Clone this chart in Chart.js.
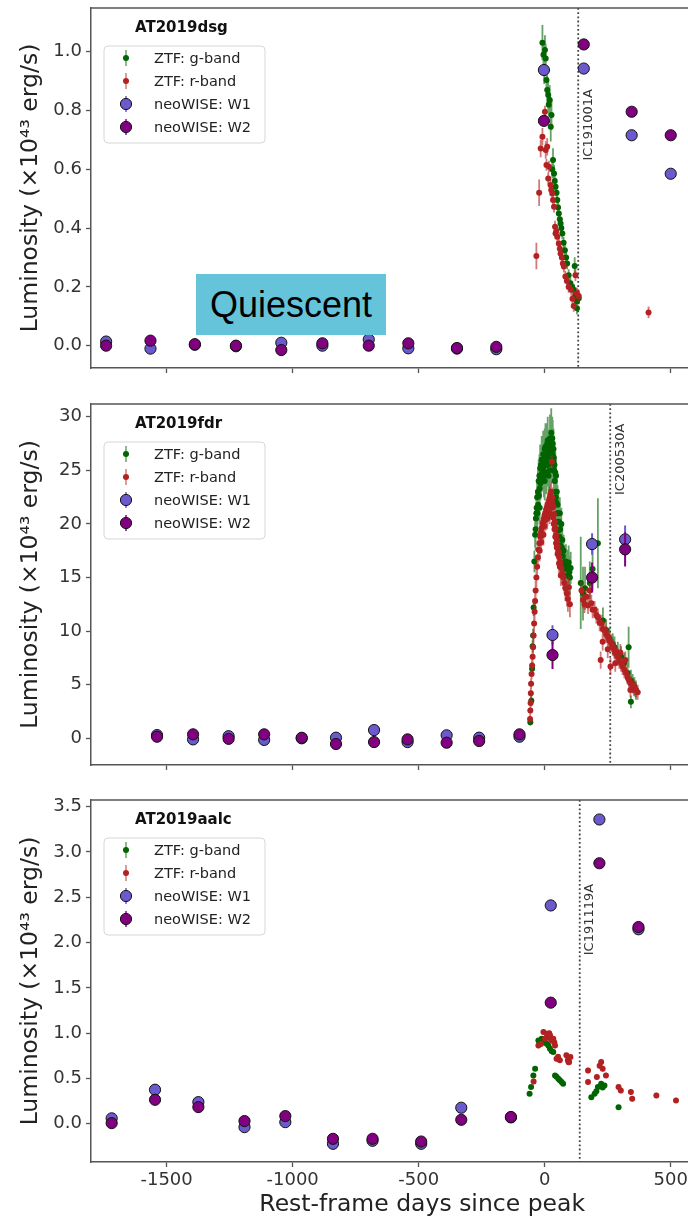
<!DOCTYPE html>
<html>
<head>
<meta charset="utf-8">
<script src="https://cdn.jsdelivr.net/npm/chart.js@4.4.1/dist/chart.umd.min.js"></script>
<style>
html, body { margin: 0; padding: 0; background: #fff; overflow: hidden; width: 688px; height: 1219px; }
.panel { position: absolute; left: 0; }
#quiescent {
    position: absolute; left: 196px; top: 274px; width: 190px; height: 61px;
    background: #66c4da; color: #000; z-index: 2;
    font: 36px 'Liberation Sans', Arial, sans-serif;
    display: flex; align-items: center; justify-content: center;
}
</style>
</head>
<body>
<canvas id="dsgChart" class="panel" width="760" height="385" style="top:0px"></canvas>
<canvas id="fdrChart" class="panel" width="760" height="392" style="top:390px"></canvas>
<canvas id="aalcChart" class="panel" width="760" height="434" style="top:785px"></canvas>
<div id="quiescent">Quiescent</div>
<script>
// ---- AT2019dsg ----
const dsgGDays = [-9, -5, -2, 1, 4, 7, 10, 14, 16, 20, 24, 27, 30, 33, 37, 40, 43, 47, 50, 53, 56, 60, 63, 66, 70, 75, 80, 85, 89, 95, 102, 109, 115, 119, 122, 128, 128, 135];
const dsgGLum = [1.031, 0.99, 0.94, 1.006, 0.977, 0.904, 0.87, 0.853, 0.82, 0.836, 0.745, 0.785, 0.60, 0.632, 0.586, 0.56, 0.541, 0.52, 0.496, 0.47, 0.45, 0.43, 0.416, 0.40, 0.382, 0.35, 0.325, 0.30, 0.28, 0.24, 0.212, 0.20, 0.19, 0.271, 0.17, 0.15, 0.127, 0.161];
const dsgGErr = [0.06, 0.05, 0.05, 0.05, 0.05, 0.05, 0.05, 0.05, 0.04, 0.05, 0.05, 0.05, 0.03, 0.04, 0.03, 0.03, 0.03, 0.03, 0.03, 0.03, 0.03, 0.02, 0.02, 0.02, 0.02, 0.02, 0.02, 0.02, 0.02, 0.02, 0.02, 0.02, 0.02, 0.03, 0.02, 0.02, 0.02, 0.02];
const dsgRDays = [-33, -22, -16, -9, 1, 4, 7, 10, 14, 17, 23, 26, 30, 33, 37, 41, 43, 46, 50, 56, 60, 63, 68, 72, 76, 82, 88, 95, 105, 110, 115, 122, 128, 135, 412];
const dsgRLum = [0.305, 0.52, 0.671, 0.711, 0.796, 0.666, 0.615, 0.677, 0.569, 0.609, 0.547, 0.53, 0.518, 0.496, 0.473, 0.405, 0.382, 0.39, 0.371, 0.348, 0.33, 0.314, 0.30, 0.28, 0.269, 0.235, 0.22, 0.2, 0.19, 0.16, 0.135, 0.24, 0.178, 0.169, 0.113];
const dsgRErr = [0.045, 0.045, 0.03, 0.03, 0.02, 0.03, 0.02, 0.03, 0.02, 0.02, 0.02, 0.02, 0.02, 0.02, 0.02, 0.02, 0.02, 0.02, 0.02, 0.02, 0.02, 0.02, 0.02, 0.02, 0.02, 0.02, 0.02, 0.02, 0.02, 0.02, 0.02, 0.02, 0.02, 0.02, 0.02];
const dsgWDays = [-1740, -1564, -1388, -1225, -1045, -882, -698, -541, -348, -192, -3, 155, 345, 500];
const dsgW1Lum = [0.014, -0.01, 0.003, -0.002, 0.01, 0.0, 0.021, -0.009, -0.01, -0.012, 0.938, 0.943, 0.716, 0.585];
const dsgW2Lum = [0.0, 0.017, 0.005, 0.0, -0.015, 0.008, 0.0, 0.008, -0.008, -0.004, 0.765, 1.025, 0.796, 0.716];
const dsgWErr = [0.005, 0.005, 0.005, 0.005, 0.005, 0.005, 0.005, 0.005, 0.005, 0.005, 0.01, 0.01, 0.01, 0.01];
const dsgYTicks = [0, 0.2, 0.4, 0.6, 0.8, 1.0];

// ---- AT2019fdr ----
const fdrGDays = [-57, -53, -50, -48, -46, -44, -41, -38, -35, -32, -30, -29, -26, -23, -20, -20, -17, -15, -14, -11, -10, -8, -5, -2, 0, 0, 1, 4, 7, 10, 10, 13, 15, 16, 19, 20, 22, 25, 28, 30, 31, 34, 35, 37, 40, 43, 45, 46, 49, 52, 55, 58, 60, 62, 66, 70, 75, 80, 86, 92, 98, 103, 143, 152, 160, 179, 190, 211, 231, 244, 257, 270, 277, 290, 303, 315, 329, 333, 342, 342, 349, 356, 362,
    -36, -33, -27, -24, -21, -18, -12, -6, -3, 3, 6, 9, 12, 18, 21, 24, 26, 29, 32, 36, 39, 42, 44, 48, 51, 54, 57, 61, 64, 68, 72, 78, 84, 90, 95, 100];
const fdrGLum = [1.5, 3.5, 6.5, 8.6, 9.6, 12.2, 16.5, 19.0, 20.5, 21.5, 22.5, 21.0, 21.8, 22.6, 23.3, 21.5, 23.8, 25.5, 24.3, 24.7, 26.0, 25.0, 25.3, 25.6, 24.0, 27.0, 25.8, 26.0, 26.2, 26.4, 27.5, 26.5, 24.5, 26.7, 26.8, 25.0, 27.0, 27.2, 27.4, 28.0, 26.5, 25.8, 27.0, 25.0, 24.0, 23.0, 24.5, 22.0, 21.0, 20.2, 19.4, 18.8, 21.0, 18.0, 20.0, 18.5, 17.5, 16.5, 15.8, 16.0, 15.5, 15.9, 14.5, 13.5, 14.0, 14.5, 15.8, 18.2, 11.0, 10.1, 9.3, 8.8, 8.5, 8.0, 7.6, 7.0, 6.1, 8.5, 5.4, 3.4, 5.1, 4.8, 4.5,
    19.5, 21.0, 23.0, 24.0, 24.5, 25.2, 26.0, 26.5, 24.5, 27.2, 24.8, 25.5, 27.8, 25.6, 28.0, 26.0, 28.5, 26.0, 27.5, 26.2, 25.5, 24.8, 22.5, 23.0, 21.8, 21.0, 20.2, 19.5, 18.6, 17.8, 17.0, 16.2, 16.5, 15.2, 16.4, 15.0];
const fdrGErr = [0.3, 0.5, 0.6, 0.6, 0.6, 0.8, 1.0, 1.2, 1.2, 1.5,
    1.5, 1.5, 1.5, 1.5, 1.6, 1.5, 1.6, 1.7, 1.7, 1.7,
    1.8, 1.8, 1.8, 1.8, 1.8, 1.9, 1.8, 1.8, 1.8, 1.8,
    1.9, 1.8, 1.8, 1.9, 2.0, 1.8, 2.0, 2.2, 2.3, 2.0,
    2.0, 1.8, 1.9, 1.8, 1.7, 1.6, 1.7, 1.5, 1.5, 1.5,
    1.4, 1.4, 1.5, 1.4, 1.5, 1.5, 1.5, 1.5, 1.5, 1.6, 1.5, 1.5,
    4.3, 2.5, 2.0, 2.0, 2.0, 4.2, 1.2, 1.0, 1.0, 1.0, 1.0, 1.0, 1.0, 1.0, 1.0, 1.9, 1.0, 0.6, 0.9, 0.9, 0.9,
    2.0, 2.0, 2.0, 2.0, 2.0, 2.2, 2.2, 2.2, 2.0, 2.2, 2.0, 2.0, 2.2, 2.0, 2.2, 2.0, 2.3, 2.2, 2.2, 2.0, 2.0, 2.0, 1.8, 1.8, 1.8, 1.8, 1.8, 1.8, 1.8, 1.8, 1.6, 1.6, 1.6, 1.6, 1.6, 1.6];
const fdrRDays = [-58, -57, -56, -55, -54, -52, -50, -48, -46, -44,
    -42, -40, -38, -36, -33, -30, -27, -24, -21, -20,
    -18, -15, -12, -9, -6, -5, -3, 0, 3, 6,
    9, 10, 12, 15, 18, 20, 21, 24, 26, 28,
    30, 31, 34, 37, 40, 43, 45, 46, 49, 52,
    55, 58, 60, 62, 66, 70, 74, 78, 82, 88,
    92, 96, 100, 146, 152, 158, 166, 172, 179, 185,
    190, 198, 205, 211, 218, 222, 225, 230, 231, 238,
    244, 250, 250, 257, 261, 264, 270, 277, 280, 283,
    290, 296, 300, 303, 309, 316, 320, 322, 329, 335,
    340, 342, 349, 355, 362, 369,
    -14, -8, -1, 5, 11, 16, 23, 29, 33, 36, 39, 42, 48, 51, 57, 64];
const fdrRLum = [1.8, 2.6, 3.3, 4.2, 5.1, 6.0, 6.8, 7.6, 8.5, 9.6,
    10.7, 11.8, 12.8, 13.8, 15.0, 16.0, 16.9, 17.6, 18.2, 17.5,
    18.8, 19.2, 19.6, 19.9, 20.2, 19.0, 20.5, 20.8, 21.0, 21.3,
    21.5, 20.5, 21.8, 21.9, 22.2, 21.0, 22.5, 22.8, 23.0, 25.8,
    21.5, 22.4, 21.6, 20.9, 20.2, 19.6, 18.2, 19.0, 18.5, 17.9,
    17.4, 16.9, 16.0, 16.4, 15.9, 15.4, 15.0, 14.5, 14.0, 13.5,
    13.0, 14.1, 12.5, 13.8, 12.9, 12.5, 13.2, 12.4, 13.8, 12.6,
    12.0, 12.0, 11.5, 11.3, 10.8, 7.3, 10.7, 9.0, 10.2, 10.1,
    9.7, 9.5, 8.3, 9.1, 6.7, 8.9, 8.5, 8.2, 7.0, 7.9,
    7.6, 7.3, 8.0, 7.0, 6.7, 6.4, 7.3, 6.1, 5.7, 5.4,
    4.5, 5.1, 4.9, 4.7, 4.5, 4.3,
    18.3, 19.0, 19.8, 20.4, 20.8, 21.3, 21.8, 22.0, 20.6, 20.0, 19.5, 18.8, 17.8, 17.2, 16.3, 15.2];
const fdrRErr = [0.4, 0.4, 0.4, 0.5, 0.5, 0.5, 0.6, 0.6, 0.6, 0.7,
    0.8, 0.8, 0.8, 0.9, 0.9, 0.9, 1.0, 1.0, 1.0, 1.0,
    1.0, 1.0, 1.0, 1.0, 1.0, 1.0, 1.0, 1.0, 1.0, 1.0,
    1.0, 1.0, 1.0, 1.0, 1.0, 1.0, 1.0, 1.0, 1.0, 0.6,
    1.0, 1.0, 1.0, 1.0, 1.0, 1.0, 1.0, 1.0, 1.0, 1.0,
    1.0, 1.0, 1.0, 1.0, 1.0, 1.0, 1.0, 1.0, 1.2, 1.2,
    1.2, 1.0, 1.2, 0.8, 0.8, 0.8, 0.8, 0.8, 0.8, 0.8,
    0.8, 0.8, 0.8, 0.8, 0.8, 0.8, 0.8, 0.8, 0.8, 0.8,
    0.8, 0.8, 0.8, 0.8, 0.8, 0.8, 0.8, 0.8, 0.8, 0.8,
    0.8, 0.8, 0.8, 0.8, 0.8, 0.8, 0.8, 0.7, 0.7, 0.7,
    0.7, 0.7, 0.7, 0.7, 0.7, 0.7,
    1.0, 1.0, 1.0, 1.0, 1.0, 1.0, 1.0, 1.0, 1.0, 1.0, 1.0, 1.0, 1.0, 1.0, 1.0, 1.0];
const fdrWDays = [-1538, -1395, -1254, -1113, -964, -828, -677, -544, -389, -260, -100, 31, 188, 319];
const fdrW1Lum = [0.3, -0.1, 0.2, -0.15, 0.0, 0.06, 0.77, -0.35, 0.28, 0.06, 0.15, 9.64, 18.12, 18.56];
const fdrW1Err = [0.3, 0.3, 0.3, 0.3, 0.3, 0.3, 0.3, 0.3, 0.3, 0.3, 0.3, 0.9, 1.0, 1.3];
const fdrW2Lum = [0.15, 0.37, -0.05, 0.37, 0.05, -0.53, -0.35, -0.1, -0.41, -0.25, 0.37, 7.77, 15.0, 17.63];
const fdrW2Err = [0.3, 0.3, 0.3, 0.3, 0.3, 0.3, 0.3, 0.3, 0.3, 0.3, 0.3, 1.3, 1.4, 1.6];
const fdrYTicks = [0, 5, 10, 15, 20, 25, 30];

// ---- AT2019aalc ----
const aalcGDays = [-60, -54, -45, -38, -25, -12, -5, 8, 15, 21, 28, 34, 41, 47, 54, 60, 67, 73, 185, 198, 205, 211, 224, 230, 237, 293];
const aalcGLum = [0.331, 0.405, 0.534, 0.608, 0.92, 0.939, 0.90, 0.884, 0.86, 0.829, 0.80, 0.791, 0.534, 0.52, 0.497, 0.48, 0.46, 0.442, 0.294, 0.331, 0.36, 0.405, 0.442, 0.40, 0.423, 0.183];
const aalcGErr = [0.02, 0.02, 0.02, 0.02, 0.02, 0.02, 0.02, 0.02, 0.02, 0.02, 0.02, 0.02, 0.02, 0.02, 0.02, 0.02, 0.02, 0.02, 0.02, 0.02, 0.02, 0.02, 0.02, 0.02, 0.02, 0.02];
const aalcRDays = [-44, -25, -15, -5, 1, 8, 14, 18, 21, 27, 34, 38, 41, 47, 53, 60, 86, 92, 95, 97, 102, 172, 172, 207, 218, 224, 230, 243, 293, 302, 342, 347, 443, 521];
const aalcRLum = [0.467, 0.865, 0.88, 1.012, 0.939, 0.994, 0.95, 1.0, 0.976, 0.92, 0.939, 0.90, 0.865, 0.718, 0.74, 0.70, 0.755, 0.70, 0.68, 0.681, 0.736, 0.589, 0.46, 0.515, 0.64, 0.681, 0.608, 0.534, 0.405, 0.368, 0.35, 0.276, 0.313, 0.258];
const aalcRErr = [0.03, 0.03, 0.03, 0.03, 0.03, 0.03, 0.03, 0.03, 0.03, 0.03, 0.03, 0.03, 0.03, 0.03, 0.03, 0.03, 0.03, 0.03, 0.03, 0.03, 0.03, 0.03, 0.03, 0.03, 0.03, 0.03, 0.03, 0.03, 0.03, 0.03, 0.03, 0.03, 0.03, 0.03];
const aalcWDays = [-1718, -1546, -1374, -1191, -1029, -840, -683, -490, -331, -134, 24, 217, 372];
const aalcW1Lum = [0.06, 0.376, 0.239, -0.037, 0.018, -0.221, -0.188, -0.221, 0.177, 0.07, 2.41, 3.359, 2.147];
const aalcW2Lum = [0.007, 0.265, 0.184, 0.03, 0.085, -0.166, -0.166, -0.196, 0.044, 0.075, 1.337, 2.876, 2.172];
const aalcWErr = [0.01, 0.01, 0.01, 0.01, 0.01, 0.01, 0.01, 0.01, 0.01, 0.01, 0.02, 0.02, 0.02];
const aalcYTicks = [0, 0.5, 1.0, 1.5, 2.0, 2.5, 3.0, 3.5];

// neutrino events
const eventNames = ['IC191001A', 'IC200530A', 'IC191119A'];
const eventDays = [133, 260, 139];

// x axis (shared)
const xTicks = [-1500, -1000, -500, 0, 500];
const xMin = -1800;
const xMax = 828; // plot runs past the right edge of the page

Chart.defaults.font.family = "'DejaVu Sans', sans-serif";

const FRAME = '#555';

// error bars drawn right before their own dataset
const errorBars = {
    id: 'errorBars',
    beforeDatasetDraw(chart, args) {
        const ds = chart.data.datasets[args.index];
        if (!ds.errors) return;
        const { ctx, chartArea: a, scales: { x, y } } = chart;
        ctx.save();
        ctx.beginPath();
        ctx.rect(a.left, a.top, a.right - a.left, a.bottom - a.top);
        ctx.clip();
        ctx.strokeStyle = ds.errColor;
        ctx.lineWidth = ds.errWidth;
        ctx.beginPath();
        ds.data.forEach((p, i) => {
            const e = ds.errors[i] || 0;
            const px = x.getPixelForValue(p.x);
            ctx.moveTo(px, y.getPixelForValue(p.y - e));
            ctx.lineTo(px, y.getPixelForValue(p.y + e));
        });
        ctx.stroke();
        ctx.restore();
    }
};

// event line + label, frame top, panel title, boxed legend
const decor = {
    id: 'decor',
    beforeDatasetsDraw(chart, args, o) {
        const { ctx, chartArea: a, scales: { x, y } } = chart;
        const px = x.getPixelForValue(o.eventDay);
        ctx.save();
        ctx.strokeStyle = '#444';
        ctx.lineWidth = 1.8;
        ctx.setLineDash([1.8, 2.4]);
        ctx.beginPath();
        ctx.moveTo(px, a.top);
        ctx.lineTo(px, a.bottom);
        ctx.stroke();
        ctx.restore();

        ctx.save();
        ctx.translate(px + 10, y.getPixelForValue(o.labelAt));
        ctx.rotate(-Math.PI / 2);
        ctx.font = "13px 'DejaVu Sans'";
        ctx.fillStyle = '#333';
        ctx.textAlign = 'left';
        ctx.textBaseline = 'middle';
        ctx.fillText(o.eventName, 0, 0);
        ctx.restore();
    },
    afterDatasetsDraw(chart, args, o) {
        const { ctx, chartArea: a } = chart;
        ctx.save();
        // top of the frame
        ctx.strokeStyle = FRAME;
        ctx.lineWidth = 1.5;
        ctx.beginPath();
        ctx.moveTo(a.left, a.top);
        ctx.lineTo(a.right, a.top);
        ctx.stroke();

        // title
        ctx.font = "bold 15px 'DejaVu Sans'";
        ctx.fillStyle = '#111';
        ctx.textAlign = 'left';
        ctx.textBaseline = 'middle';
        ctx.fillText(o.title, a.left + 44, a.top + 20);

        // legend box
        const bx = a.left + 13, by = a.top + 38, bw = 161, bh = 97;
        ctx.beginPath();
        ctx.roundRect(bx, by, bw, bh, 4);
        ctx.fillStyle = 'rgba(255,255,255,0.85)';
        ctx.fill();
        ctx.strokeStyle = '#d6d6d6';
        ctx.lineWidth = 1;
        ctx.stroke();

        chart.data.datasets.forEach((ds, i) => {
            const cx = bx + 22, cy = a.top + 50 + i * 23;
            ctx.strokeStyle = ds.errColor;
            ctx.lineWidth = 1.5;
            ctx.beginPath();
            ctx.moveTo(cx, cy - 8);
            ctx.lineTo(cx, cy + 8);
            ctx.stroke();
            ctx.beginPath();
            ctx.arc(cx, cy, ds.pointRadius, 0, Math.PI * 2);
            ctx.fillStyle = ds.backgroundColor;
            ctx.fill();
            if (ds.pointBorderWidth) {
                ctx.strokeStyle = ds.pointBorderColor;
                ctx.lineWidth = ds.pointBorderWidth;
                ctx.stroke();
            }
            ctx.font = "14.5px 'DejaVu Sans'";
            ctx.fillStyle = '#222';
            ctx.textAlign = 'left';
            ctx.textBaseline = 'middle';
            ctx.fillText(ds.label, bx + 50, cy + 1);
        });
        ctx.restore();
    }
};

const styleG = { backgroundColor: '#006400', pointRadius: 3, pointBorderWidth: 0, errColor: 'rgba(0,100,0,0.6)', errWidth: 1.8, order: 4 };
const styleR = { backgroundColor: '#b22222', pointRadius: 3, pointBorderWidth: 0, errColor: 'rgba(178,34,34,0.6)', errWidth: 1.8, order: 3 };
const styleW1 = { backgroundColor: '#6a5acd', pointRadius: 5.6, pointBorderWidth: 1, pointBorderColor: '#111', errColor: '#6a5acd', errWidth: 2, order: 2 };
const styleW2 = { backgroundColor: '#800080', pointRadius: 5.6, pointBorderWidth: 1, pointBorderColor: '#111', errColor: '#800080', errWidth: 2, order: 1 };

function series(label, days, lum, err, style) {
    return Object.assign({
        label: label,
        data: days.map((d, i) => ({ x: d, y: lum[i] })),
        errors: err,
        borderColor: style.backgroundColor
    }, style);
}

function makePanel(id, p) {
    new Chart(document.getElementById(id), {
        type: 'scatter',
        data: {
            datasets: [
                series('ZTF: g-band', p.gDays, p.gLum, p.gErr, styleG),
                series('ZTF: r-band', p.rDays, p.rLum, p.rErr, styleR),
                series('neoWISE: W1', p.wDays, p.w1Lum, p.w1Err, styleW1),
                series('neoWISE: W2', p.wDays, p.w2Lum, p.w2Err, styleW2)
            ]
        },
        options: {
            responsive: false,
            animation: false,
            events: [],
            layout: { padding: { top: p.padTop, left: 0, right: 0, bottom: 0 } },
            plugins: {
                legend: { display: false },
                tooltip: { enabled: false },
                decor: { title: p.title, eventDay: p.eventDay, eventName: p.eventName, labelAt: p.labelAt }
            },
            scales: {
                x: {
                    type: 'linear',
                    min: xMin,
                    max: xMax,
                    afterBuildTicks: s => { s.ticks = xTicks.map(v => ({ value: v })); },
                    afterFit: s => { s.height = p.xHeight; s.paddingLeft = 0; s.paddingRight = 0; },
                    border: { color: FRAME, width: 1.5 },
                    grid: { drawOnChartArea: false, drawTicks: true, tickLength: 5, tickColor: FRAME, tickWidth: 1.3 },
                    ticks: {
                        maxRotation: 0,
                        autoSkip: false,
                        padding: 3,
                        color: '#333',
                        font: { size: 18 },
                        callback: v => p.xLabels ? String(v) : ''
                    },
                    title: {
                        display: p.xLabels,
                        text: 'Rest-frame days since peak',
                        color: '#222',
                        font: { size: 23.5 },
                        padding: { top: 0, bottom: 0 }
                    }
                },
                y: {
                    min: p.yMin,
                    max: p.yMax,
                    afterBuildTicks: s => { s.ticks = p.yTicks.map(v => ({ value: v })); },
                    afterFit: s => { s.width = 91; s.paddingTop = 0; s.paddingBottom = 0; },
                    border: { color: FRAME, width: 1.5 },
                    grid: { drawOnChartArea: false, drawTicks: true, tickLength: 5, tickColor: FRAME, tickWidth: 1.3 },
                    ticks: {
                        padding: 4,
                        color: '#333',
                        font: { size: 18 },
                        callback: v => v.toFixed(p.yDecimals)
                    },
                    title: {
                        display: true,
                        text: 'Luminosity (×10⁴³ erg/s)',
                        color: '#222',
                        font: { size: 23.5 },
                        padding: { top: 17, bottom: 0 }
                    }
                }
            }
        },
        plugins: [errorBars, decor]
    });
}

makePanel('dsgChart', {
    title: 'AT2019dsg', eventName: eventNames[0], eventDay: eventDays[0], labelAt: 0.63,
    gDays: dsgGDays, gLum: dsgGLum, gErr: dsgGErr,
    rDays: dsgRDays, rLum: dsgRLum, rErr: dsgRErr,
    wDays: dsgWDays, w1Lum: dsgW1Lum, w1Err: dsgWErr, w2Lum: dsgW2Lum, w2Err: dsgWErr,
    yMin: -0.076, yMax: 1.149, yTicks: dsgYTicks, yDecimals: 1,
    padTop: 8, xHeight: 17, xLabels: false
});

makePanel('fdrChart', {
    title: 'AT2019fdr', eventName: eventNames[1], eventDay: eventDays[1], labelAt: 22.7,
    gDays: fdrGDays, gLum: fdrGLum, gErr: fdrGErr,
    rDays: fdrRDays, rLum: fdrRLum, rErr: fdrRErr,
    wDays: fdrWDays, w1Lum: fdrW1Lum, w1Err: fdrW1Err, w2Lum: fdrW2Lum, w2Err: fdrW2Err,
    yMin: -2.49, yMax: 31.19, yTicks: fdrYTicks, yDecimals: 0,
    padTop: 14, xHeight: 17, xLabels: false
});

makePanel('aalcChart', {
    title: 'AT2019aalc', eventName: eventNames[2], eventDay: eventDays[2], labelAt: 1.86,
    gDays: aalcGDays, gLum: aalcGLum, gErr: aalcGErr,
    rDays: aalcRDays, rLum: aalcRLum, rErr: aalcRErr,
    wDays: aalcWDays, w1Lum: aalcW1Lum, w1Err: aalcWErr, w2Lum: aalcW2Lum, w2Err: aalcWErr,
    yMin: -0.422, yMax: 3.574, yTicks: aalcYTicks, yDecimals: 1,
    padTop: 15, xHeight: 57, xLabels: true
});
</script>
</body>
</html>
